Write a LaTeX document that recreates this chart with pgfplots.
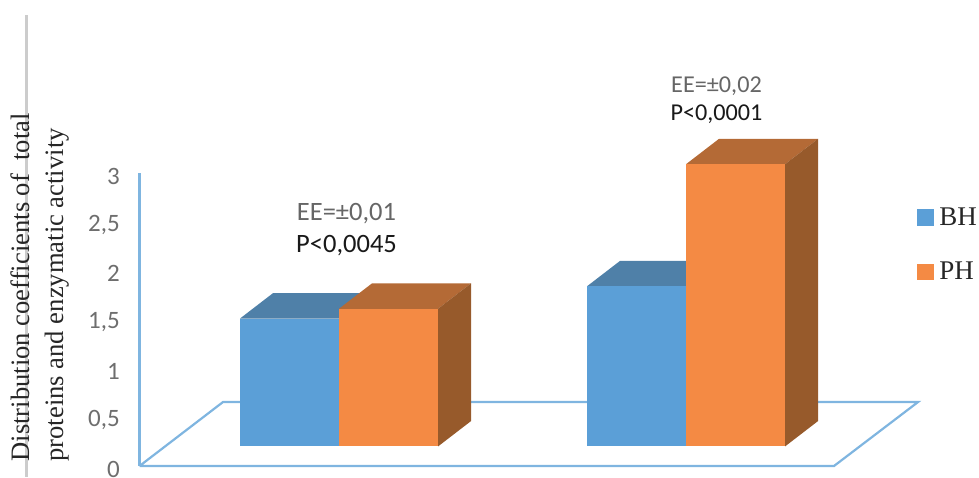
\documentclass[border=0pt]{standalone}
\usepackage{pgfplots}
\pgfplotsset{compat=1.18}
\usepackage{fontspec}
\setmainfont{Liberation Serif}
\newfontfamily\calibri{Carlito}
\definecolor{frontBlue}{HTML}{5B9FD7}
\definecolor{topBlue}{HTML}{4F80A8}
\definecolor{frontOrange}{HTML}{F48A44}
\definecolor{topOrange}{HTML}{B46A36}
\definecolor{sideOrange}{HTML}{975A2B}
\definecolor{floorLine}{HTML}{7FB5E0}
\definecolor{tickGrey}{HTML}{6E6E6E}
\definecolor{eeGrey}{HTML}{666666}
\newcommand{\fs}[1]{\fontsize{#1pt}{#1pt}\selectfont}
\begin{document}
\begin{tikzpicture}
\path[use as bounding box] (0,0) rectangle (979pt,477pt);
\fill[black!20] (25pt,0) rectangle (27.5pt,462pt);
\begin{axis}[
  at={(139.5pt,11pt)}, anchor=south west,
  scale only axis, width=694.5pt, height=293pt,
  xmin=139.5, xmax=834, ymin=0, ymax=3,
  clip=false,
  axis y line*=left, axis x line*=bottom,
  axis line style={draw=none},
  xtick=\empty,
  ytick={0,0.5,1,1.5,2,2.5,3},
  major tick length=0pt,
  yticklabel style={/pgf/number format/use comma, /pgf/number format/assume math mode=true,
    font=\calibri\fs{25}, text=tickGrey, inner sep=0pt, xshift=-19.5pt, yshift=-3pt},
  ylabel={Distribution coefficients of\ \ total\\[6.5pt]proteins and enzymatic activity},
  every axis y label/.style={at={(axis description cs:-0.1433,0.0034)}, rotate=90, anchor=west,
    align=left, font=\fs{26.6}, text=black!85},
  legend style={at={(axis cs:917,2.67)}, anchor=north west, draw=none, fill=none,
    font=\fs{27}, text=black!85, inner sep=0pt, row sep=31.5pt,
    /tikz/every even column/.style={column sep=0pt}},
  legend cell align=left,
  legend image code/.code={\fill[#1] (0pt,-7.75pt) rectangle (15.5pt,7.75pt);
    \path[draw=none, fill=none] (0pt,0pt) rectangle (20pt,0.1pt);},
]
\addlegendimage{frontBlue}
\addlegendentry{BH}
\addlegendimage{frontOrange}
\addlegendentry{PH}

% value axis and floor of the chart
\addplot[forget plot, floorLine, line width=2.2pt] coordinates
  {(139.5,0) (139.5,3)};
\addplot[forget plot, floorLine, line width=2.2pt] coordinates
  {(139.5,0) (223,0.655) (918,0.655) (834,0) (139.5,0)};

% first group: BH
\addplot[forget plot, fill=topBlue, draw=none] coordinates
  {(240,1.51) (273,1.77) (372,1.77) (339,1.51)};
\addplot[forget plot, fill=frontBlue, draw=none] coordinates
  {(240,0.2) (240,1.51) (339,1.51) (339,0.2)};
% first group: PH
\addplot[forget plot, fill=topOrange, draw=none] coordinates
  {(339,1.61) (372,1.87) (471,1.87) (438,1.61)};
\addplot[forget plot, fill=sideOrange, draw=none] coordinates
  {(438,0.2) (438,1.61) (471,1.87) (471,0.46)};
\addplot[forget plot, fill=frontOrange, draw=none] coordinates
  {(339,0.2) (339,1.61) (438,1.61) (438,0.2)};

% second group: BH
\addplot[forget plot, fill=topBlue, draw=none] coordinates
  {(587,1.84) (620,2.10) (719,2.10) (686,1.84)};
\addplot[forget plot, fill=frontBlue, draw=none] coordinates
  {(587,0.2) (587,1.84) (686,1.84) (686,0.2)};
% second group: PH
\addplot[forget plot, fill=topOrange, draw=none] coordinates
  {(686,3.09) (719,3.35) (818,3.35) (785,3.09)};
\addplot[forget plot, fill=sideOrange, draw=none] coordinates
  {(785,0.2) (785,3.09) (818,3.35) (818,0.46)};
\addplot[forget plot, fill=frontOrange, draw=none] coordinates
  {(686,0.2) (686,3.09) (785,3.09) (785,0.2)};

% statistics above each group
\node[font=\calibri\fs{26.5}, text=eeGrey] at (axis cs:346.5,2.585) {EE=±0,01};
\node[font=\calibri\fs{26.5}, text=black!90] at (axis cs:346.5,2.255) {P<0,0045};
\node[font=\calibri\fs{24.2}, text=eeGrey] at (axis cs:716.5,3.885) {EE=±0,02};
\node[font=\calibri\fs{24.2}, text=black!90] at (axis cs:716.5,3.60) {P<0,0001};
\end{axis}
\end{tikzpicture}
\end{document}
